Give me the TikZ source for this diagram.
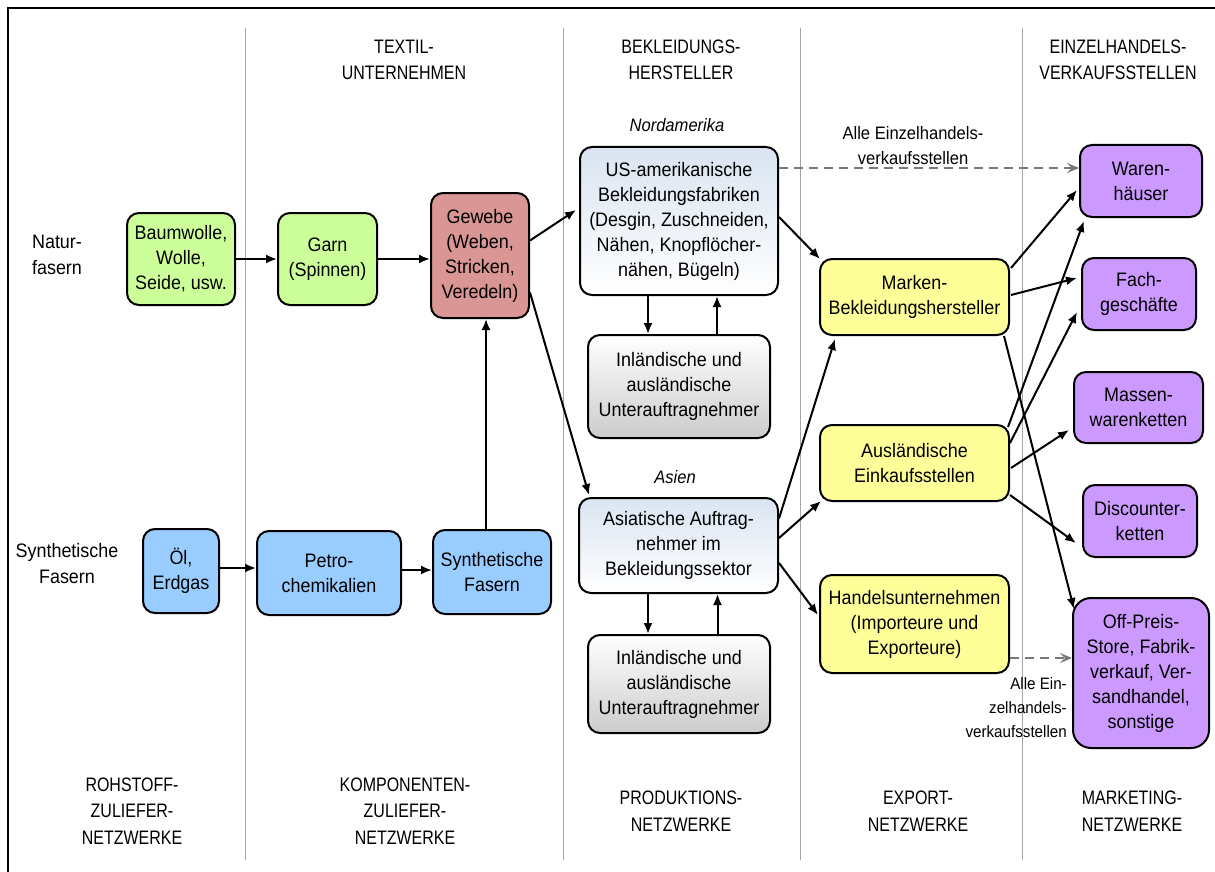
\documentclass[tikz,border=0pt]{standalone}
\usepackage{fontspec}
\setmainfont{Liberation Sans}[FakeStretch=0.92]
\newfontfamily\hdfont{Liberation Sans}[FakeStretch=0.82]
\usetikzlibrary{arrows.meta,calc}
\definecolor{cgreen}{RGB}{204,255,153}
\definecolor{crose}{RGB}{217,150,148}
\definecolor{cblue}{RGB}{153,204,255}
\definecolor{cyellow}{RGB}{255,255,153}
\definecolor{cpurple}{RGB}{204,153,255}
\definecolor{cusTop}{RGB}{218,228,241}
\definecolor{cgrayBot}{RGB}{204,204,204}
\definecolor{csep}{RGB}{165,165,165}
\definecolor{cdash}{RGB}{120,120,120}
\begin{document}
\begin{tikzpicture}[x=1pt,y=-1pt,
  box/.style={draw=black,line width=2pt,rounded corners=12pt,align=center,inner sep=0pt,
    font=\fontsize{19.5}{25}\selectfont},
  bodytxt/.style={align=center,inner sep=0pt,font=\fontsize{19.5}{26}\selectfont},
  hdtxt/.style={align=center,inner sep=0pt,font=\hdfont\fontsize{19.5}{26.5}\selectfont},
  smalltxt/.style={align=center,inner sep=0pt,font=\fontsize{18}{25}\selectfont},
  tinytxt/.style={align=right,inner sep=0pt,font=\fontsize{16.5}{24}\selectfont},
  arr/.style={line width=2pt,-{Latex[length=11pt,width=9pt]}},
  darr/.style={line width=2.3pt,draw=cdash,dash pattern=on 9pt off 6pt,-{Stealth[length=12pt,width=10pt,inset=5pt]}},
  sep/.style={draw=csep,line width=1pt}
]
\useasboundingbox (0,0) rectangle (1215,872);
% frame
\draw[line width=2.2pt] (8,872) -- (8,8) -- (1215,8);
% separators
\draw[sep] (245,28) -- (245,860);
\draw[sep] (563,28) -- (563,860);
\draw[sep] (800,28) -- (800,860);
\draw[sep] (1022,28) -- (1022,860);
% headers
\node[hdtxt] (h1) at (404,60) {TEXTIL-\\UNTERNEHMEN};
\node[hdtxt] (h2) at (681,60) {BEKLEIDUNGS-\\HERSTELLER};
\node[hdtxt] (h3) at (1118,60) {EINZELHANDELS-\\VERKAUFSSTELLEN};
\node[hdtxt] (f1) at (132,811) {ROHSTOFF-\\ZULIEFER-\\NETZWERKE};
\node[hdtxt] (f2) at (405,811) {KOMPONENTEN-\\ZULIEFER-\\NETZWERKE};
\node[hdtxt] (f3) at (681,811) {PRODUKTIONS-\\NETZWERKE};
\node[hdtxt] (f4) at (918,811) {EXPORT-\\NETZWERKE};
\node[hdtxt] (f5) at (1132,811) {MARKETING-\\NETZWERKE};
% row labels
\node[bodytxt] (rl1) at (57,255) {Natur-\\fasern};
\node[bodytxt] (rl2) at (67,564) {Synthetische\\Fasern};
\node[smalltxt,font=\itshape\fontsize{18}{25}\selectfont] (na) at (677,125) {Nordamerika};
\node[smalltxt,font=\itshape\fontsize{18}{25}\selectfont] (as) at (675,477) {Asien};
% nodes
\node[box,fill=cgreen,minimum width=108pt,minimum height=92pt] (bw) at (181,259) {Baumwolle,\\Wolle,\\Seide, usw.};
\node[box,fill=cgreen,minimum width=99pt,minimum height=92pt] (garn) at (327.5,259) {Garn\\(Spinnen)};
\node[box,fill=crose,minimum width=98pt,minimum height=125pt] (gew) at (480,255.5) {Gewebe\\(Weben,\\Stricken,\\Veredeln)};
\node[box,fill=cblue,minimum width=76pt,minimum height=84pt] (oel) at (181,571) {Öl,\\Erdgas};
\node[box,fill=cblue,minimum width=144pt,minimum height=84pt] (petro) at (329,573) {Petro-\\chemikalien};
\node[box,fill=cblue,minimum width=118pt,minimum height=84pt] (syn) at (492,572) {Synthetische\\Fasern};
\node[box,top color=cusTop,bottom color=white,minimum width=198pt,minimum height=148pt] (us) at (679,221) {US-amerikanische\\Bekleidungsfabriken\\(Desgin, Zuschneiden,\\Nähen, Knopflöcher-\\nähen, Bügeln)};
\node[box,top color=white,bottom color=cgrayBot,minimum width=182pt,minimum height=103pt] (inl1) at (679,386.5) {Inländische und\\ausländische\\Unterauftragnehmer};
\node[box,top color=cusTop,bottom color=white,minimum width=199pt,minimum height=95pt] (asia) at (678.5,545.5) {Asiatische Auftrag-\\nehmer im\\Bekleidungssektor};
\node[box,top color=white,bottom color=cgrayBot,minimum width=182pt,minimum height=98pt] (inl2) at (679,684) {Inländische und\\ausländische\\Unterauftragnehmer};
\node[box,fill=cyellow,minimum width=189pt,minimum height=76pt] (mk) at (914.5,297) {Marken-\\Bekleidungshersteller};
\node[box,fill=cyellow,minimum width=189pt,minimum height=76pt] (aus) at (914.5,463) {Ausländische\\Einkaufsstellen};
\node[box,fill=cyellow,minimum width=189pt,minimum height=98pt] (han) at (914.5,624) {Handelsunternehmen\\(Importeure und\\Exporteure)};
\node[box,fill=cpurple,minimum width=122pt,minimum height=72pt] (wh) at (1141,181) {Waren-\\häuser};
\node[box,fill=cpurple,minimum width=114pt,minimum height=72pt] (fach) at (1139,294) {Fach-\\geschäfte};
\node[box,fill=cpurple,minimum width=129pt,minimum height=71pt] (mass) at (1138.5,407.5) {Massen-\\warenketten};
\node[box,fill=cpurple,minimum width=114pt,minimum height=72pt] (disc) at (1140,521) {Discounter-\\ketten};
\node[box,fill=cpurple,minimum width=136pt,minimum height=150pt,rounded corners=18pt] (off) at (1141,673) {Off-Preis-\\Store, Fabrik-\\verkauf, Ver-\\sandhandel,\\sonstige};
% labels
\node[smalltxt] (l1) at (913,146) {Alle Einzelhandels-\\verkaufsstellen};
\node[tinytxt,anchor=east] (l2) at (1067,708) {Alle Ein-\\zelhandels-\\verkaufsstellen};
% arrows left
\draw[arr] (bw.east) -- (garn.west);
\draw[arr] (garn.east) -- (garn.east -| gew.west);
\draw[arr] ([yshift=3pt]oel.east) -- ([yshift=3pt]oel.east -| petro.west);
\draw[arr] ([yshift=3pt]petro.east) -- ([yshift=3pt]petro.east -| syn.west);
\draw[arr] ([xshift=-6pt]syn.north) -- ([xshift=-6pt]syn.north |- gew.south);
\draw[arr] ([yshift=15pt]gew.east) -- ([yshift=11pt,xshift=-3pt]us.west);
\draw[arr] ([yshift=-37pt]gew.east) -- ([xshift=11pt,yshift=2pt]asia.north west);
% sub arrows
\draw[arr] ([xshift=-31pt]us.south) -- ([xshift=-31pt]us.south |- inl1.north);
\draw[arr] ([xshift=38pt]inl1.north) -- ([xshift=38pt]inl1.north |- us.south);
\draw[arr] ([xshift=-30.5pt]asia.south) -- ([xshift=-30.5pt]asia.south |- inl2.north);
\draw[arr] ([xshift=38.5pt]inl2.north) -- ([xshift=38.5pt]inl2.north |- asia.south);
% production -> export
\draw[arr] ([yshift=4pt]us.east) -- ([xshift=1pt,yshift=-1pt]mk.north west);
\draw[arr] ([yshift=27pt]asia.east) -- ([xshift=16pt,yshift=-3pt]mk.south west);
\draw[arr] ([yshift=7.5pt]asia.east) -- ([xshift=2pt,yshift=1pt]aus.south west);
\draw[arr] ([yshift=-17.5pt]asia.east) -- ([xshift=-1pt,yshift=9pt]han.west);
% export -> marketing
\draw[arr] ([yshift=29pt,xshift=1pt]mk.east) -- ([yshift=-9pt,xshift=-2pt]wh.west);
\draw[arr] ([yshift=2pt,xshift=1pt]mk.east) -- ([yshift=16pt,xshift=-4pt]fach.west);
\draw[arr] ([xshift=-6pt]mk.south east) -- ([xshift=2pt,yshift=-12pt]off.north west);
\draw[arr] ([xshift=-2pt,yshift=-3pt]aus.north east) -- ([xshift=5pt,yshift=-3pt]wh.south west);
\draw[arr] ([yshift=20pt]aus.east) -- ([yshift=19pt,xshift=-4pt]fach.south west);
\draw[arr] ([yshift=-5pt,xshift=1pt]aus.east) -- ([yshift=-22.5pt,xshift=-4pt]mass.west);
\draw[arr] ([yshift=-32pt]aus.east) -- ([yshift=-22pt,xshift=-6pt]disc.west);
% dashed
\draw[darr] ([yshift=53pt]us.east) -- ([yshift=53pt]us.east -| wh.west);
\draw[darr] ([yshift=-34pt]han.east) -- ([yshift=-34pt]han.east -| off.west);
\end{tikzpicture}
\end{document}
